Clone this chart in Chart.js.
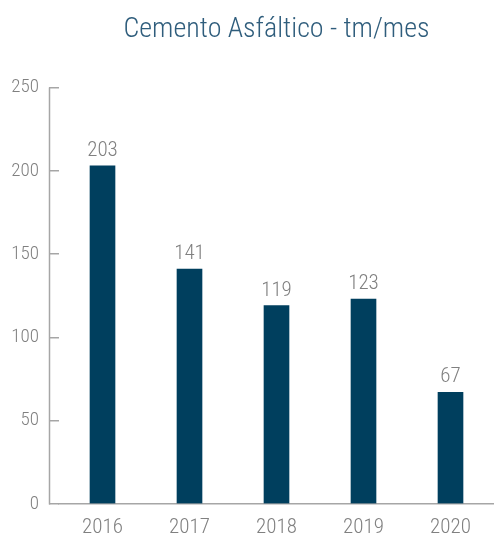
<!DOCTYPE html>
<html>
<head>
<meta charset="utf-8">
<script src="https://cdn.jsdelivr.net/npm/chart.js@4"></script>
<style>
  html, body { margin: 0; padding: 0; background: #ffffff; }
  #wrap { width: 494px; height: 537px; }
</style>
</head>
<body>
<div id="wrap"><canvas id="c"></canvas></div>
<script>
const categories = ['2016', '2017', '2018', '2019', '2020'];
const values = [203, 141, 119, 123, 67];
const yTicks = [0, 50, 100, 150, 200, 250];
const titleText = 'Cemento Asfáltico - tm/mes';

const FONT = "'Roboto Condensed', 'Liberation Sans Narrow', 'DejaVu Sans Condensed', sans-serif";
const GRAY = '#808080';
const AXIS = '#a6a6a6';

const valueLabels = {
  id: 'valueLabels',
  afterDatasetsDraw(chart) {
    const ctx = chart.ctx;
    const meta = chart.getDatasetMeta(0);
    ctx.save();
    ctx.font = "300 21px " + FONT;
    ctx.fillStyle = GRAY;
    ctx.textAlign = 'center';
    ctx.textBaseline = 'alphabetic';
    meta.data.forEach((bar, i) => {
      ctx.fillText(String(values[i]), bar.x, bar.y - 10);
    });
    ctx.restore();
  }
};

const axisLine = {
  id: 'axisLine',
  afterDraw(chart) {
    const y = chart.scales.y;
    const ctx = chart.ctx;
    const x = Math.round(y.right - y.options.grid.tickLength) + 0.5;
    ctx.save();
    ctx.strokeStyle = AXIS;
    ctx.lineWidth = 1.5;
    ctx.beginPath();
    ctx.moveTo(x, y.getPixelForValue(yTicks[yTicks.length - 1]));
    ctx.lineTo(x, y.getPixelForValue(0) + 0.75);
    ctx.stroke();
    ctx.restore();
  }
};

new Chart(document.getElementById('c'), {
  type: 'bar',
  data: {
    labels: categories,
    datasets: [{
      data: values,
      backgroundColor: '#003f5e',
      barThickness: 25
    }]
  },
  options: {
    responsive: true,
    maintainAspectRatio: false,
    animation: false,
    layout: { padding: { left: 0, right: 0, top: 0, bottom: -14 } },
    plugins: {
      legend: { display: false },
      tooltip: { enabled: false },
      title: {
        display: true,
        text: titleText,
        fullSize: false,
        color: '#2f5d7c',
        font: { family: FONT, size: 28, weight: '300' },
        padding: { top: 13, bottom: 41 }
      }
    },
    scales: {
      x: {
        grid: { display: false, drawTicks: false },
        border: { display: true, color: AXIS, width: 1.5 },
        ticks: { color: GRAY, padding: 11, font: { family: FONT, size: 21, weight: '300' } }
      },
      y: {
        min: 0,
        max: 250,
        afterBuildTicks(scale) { scale.ticks = yTicks.map(v => ({ value: v })); },
        afterFit(scale) { scale.width = 59; },
        grid: { drawOnChartArea: false, drawTicks: true, tickLength: 10, color: AXIS, lineWidth: 1.5 },
        border: { display: false },
        ticks: { color: GRAY, padding: 10, font: { family: FONT, size: 19, weight: '300' } }
      }
    }
  },
  plugins: [valueLabels, axisLine]
});
</script>
</body>
</html>
